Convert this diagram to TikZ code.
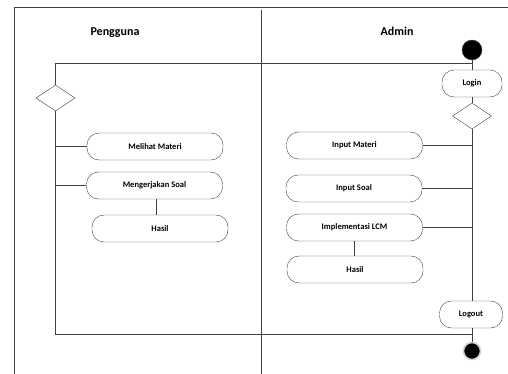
\documentclass[tikz,border=0pt]{standalone}
\usepackage{fontspec}
\setmainfont{Carlito}
\usetikzlibrary{shapes.geometric}
\definecolor{linec}{HTML}{404040}
\tikzset{
    act/.style={draw=linec, rectangle, rounded corners=12pt, minimum width=136pt,
        minimum height=27pt, inner sep=1pt, font=\bfseries\fontsize{8.5}{10}\selectfont},
    smallact/.style={act, minimum width=60pt},
    decision/.style={draw=linec, diamond, minimum width=39pt, minimum height=26pt, inner sep=0pt},
    startdot/.style={circle, fill=black, draw=linec, minimum size=20pt, inner sep=0pt},
    enddot/.style={circle, fill=black, draw=gray!35, line width=1.5pt, minimum size=17pt, inner sep=0pt},
    lanetitle/.style={font=\bfseries\fontsize{12}{14}\selectfont},
    flow/.style={draw=linec, line width=0.6pt}
}
\begin{document}
\begin{tikzpicture}[x=1pt, y=-1pt]
    \useasboundingbox (0,0) rectangle (508,374);
    % swimlanes
    \draw[linec, line width=0.8pt] (14,374) -- (14,7) -- (508,7);
    \draw[linec, line width=0.8pt] (261,10) -- (261,374);
    \node[lanetitle] (pengguna) at (115,33) {Pengguna};
    \node[lanetitle] (admin) at (397,31) {Admin};
    % admin lane
    \node[startdot] (start) at (472,50) {};
    \node[smallact] (login) at (472,83.5) {Login};
    \node[decision] (rdec) at (472,116) {};
    \node[act] (imateri) at (354.5,145.5) {Input Materi};
    \node[act] (isoal) at (354,188.5) {Input Soal};
    \node[act] (implcm) at (354.5,227.5) {Implementasi LCM};
    \node[act] (hasiladm) at (355,269.5) {Hasil};
    \node[smallact, minimum width=63pt] (logout) at (471,314.5) {Logout};
    \node[enddot] (end) at (472,351) {};
    % pengguna lane
    \node[decision] (ldec) at (55.5,98) {};
    \node[act] (melihat) at (155,146.5) {Melihat Materi};
    \node[act] (kerja) at (154.5,185.5) {Mengerjakan Soal};
    \node[act] (hasilpgn) at (160,228.5) {Hasil};
    \coordinate (forktop) at (472,63);
    \coordinate (forkbot) at (472,334);
    % connectors
    \draw[flow] (start) -- (login);
    \draw[flow] (login) -- (rdec);
    \draw[flow] (rdec.south) -- (rdec.south |- logout.north);
    \draw[flow] (imateri.east) -- (imateri.east -| rdec);
    \draw[flow] (isoal.east) -- (isoal.east -| rdec);
    \draw[flow] (implcm.east) -- (implcm.east -| rdec);
    \draw[flow] (implcm.south) -- (implcm.south |- hasiladm.north);
    \draw[flow] (logout.south -| end) -- (end);
    \draw[flow] (forktop) -- (forktop -| ldec) -- (ldec.north);
    \draw[flow] (ldec.south) -- (ldec.south |- forkbot) -- (forkbot);
    \draw[flow] (melihat.west) -- (melihat.west -| ldec);
    \draw[flow] (kerja.west) -- (kerja.west -| ldec);
    \draw[flow] ([xshift=2pt]kerja.south) -- ([xshift=2pt]kerja.south |- hasilpgn.north);
\end{tikzpicture}
\end{document}
